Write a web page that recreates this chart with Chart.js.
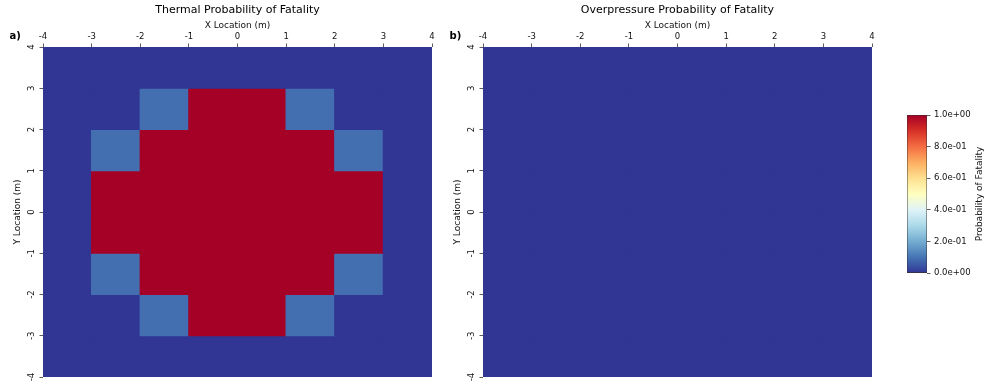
<!DOCTYPE html>
<html>
<head>
<meta charset="utf-8">
<script src="https://cdn.jsdelivr.net/npm/chart.js@4.4.1/dist/chart.umd.min.js"></script>
<style>
  html, body { margin: 0; padding: 0; background: #fff; }
  body { width: 986px; height: 383px; position: relative; overflow: hidden; }
  canvas { position: absolute; top: 0; }
</style>
</head>
<body>
<canvas id="thermal" width="445" height="383" style="left:0px"></canvas>
<canvas id="overpressure" width="445" height="383" style="left:440px"></canvas>
<canvas id="cbar" width="91" height="383" style="left:895px"></canvas>
<script>
// Grid cell edges (m)
const xEdges = [-4, -3, -2, -1, 0, 1, 2, 3, 4];
const yEdges = [4, 3, 2, 1, 0, -1, -2, -3, -4];   // rows listed top to bottom

// Probability of fatality per cell, rows from y=4 (top) down to y=-4
const thermalPof = [
  [0, 0,    0,    0, 0, 0,    0,    0],
  [0, 0,    0.09, 1, 1, 0.09, 0,    0],
  [0, 0.09, 1,    1, 1, 1,    0.09, 0],
  [0, 1,    1,    1, 1, 1,    1,    0],
  [0, 1,    1,    1, 1, 1,    1,    0],
  [0, 0.09, 1,    1, 1, 1,    0.09, 0],
  [0, 0,    0.09, 1, 1, 0.09, 0,    0],
  [0, 0,    0,    0, 0, 0,    0,    0]
];
const overpressurePof = [
  [0, 0, 0, 0, 0, 0, 0, 0],
  [0, 0, 0, 0, 0, 0, 0, 0],
  [0, 0, 0, 0, 0, 0, 0, 0],
  [0, 0, 0, 0, 0, 0, 0, 0],
  [0, 0, 0, 0, 0, 0, 0, 0],
  [0, 0, 0, 0, 0, 0, 0, 0],
  [0, 0, 0, 0, 0, 0, 0, 0],
  [0, 0, 0, 0, 0, 0, 0, 0]
];

// Colour scale range
const colorbarRange = [0, 1];
const colorbarStep = 0.2;

// Reversed red-yellow-blue palette, low -> high
const cmapStops = ['#313695', '#4575b4', '#74add1', '#abd9e9', '#e0f3f8', '#ffffbf',
                   '#fee090', '#fdae61', '#f46d43', '#d73027', '#a50026'];

function hexToRgb(h) {
  return [parseInt(h.slice(1, 3), 16), parseInt(h.slice(3, 5), 16), parseInt(h.slice(5, 7), 16)];
}
function colormap(v) {
  const t = Math.min(1, Math.max(0, (v - colorbarRange[0]) / (colorbarRange[1] - colorbarRange[0])));
  const pos = t * (cmapStops.length - 1);
  const i = Math.min(cmapStops.length - 2, Math.floor(pos));
  const f = pos - i;
  const a = hexToRgb(cmapStops[i]), b = hexToRgb(cmapStops[i + 1]);
  const c = a.map((x, k) => Math.round(x + (b[k] - x) * f));
  return `rgb(${c[0]},${c[1]},${c[2]})`;
}

Chart.defaults.font.family = '"DejaVu Sans", sans-serif';
Chart.defaults.color = '#111';

// Bold panel letter in the top-left corner
const panelTag = {
  id: 'panelTag',
  afterDraw(chart, args, opts) {
    const ctx = chart.ctx;
    ctx.save();
    ctx.font = 'bold 10px "DejaVu Sans"';
    ctx.fillStyle = '#000';
    ctx.textAlign = 'left';
    ctx.textBaseline = 'alphabetic';
    ctx.fillText(opts.text, 9.5, 38.5);
    ctx.restore();
  }
};

// One floating-bar dataset per grid row; each bar spans one cell
function heatmapDatasets(grid) {
  return grid.map((row, r) => ({
    data: row.map((v, c) => ({ x: (xEdges[c] + xEdges[c + 1]) / 2, y: [yEdges[r + 1], yEdges[r]] })),
    backgroundColor: row.map(v => colormap(v)),
    borderWidth: 0,
    inflateAmount: 0.6,
    grouped: false,
    barPercentage: 1,
    categoryPercentage: 1
  }));
}

function heatmapConfig(grid, title, tag) {
  const tickFont = { size: 8.5 };
  const gridOpts = { drawOnChartArea: false, tickLength: 3.5, color: '#333', lineWidth: 0.8, offset: false };
  return {
    type: 'bar',
    data: { datasets: heatmapDatasets(grid) },
    options: {
      responsive: false,
      animation: false,
      events: [],
      devicePixelRatio: 1,
      layout: { padding: { left: 0, right: 13, top: 0, bottom: 6 } },
      plugins: {
        legend: { display: false },
        tooltip: { enabled: false },
        title: {
          display: true, text: title, fullSize: false, color: '#000',
          font: { size: 11, weight: 'normal' }, padding: { top: 4, bottom: 2 }
        },
        panelTag: { text: tag }
      },
      scales: {
        x: {
          type: 'linear', position: 'top', min: xEdges[0], max: xEdges[xEdges.length - 1], offset: false,
          ticks: { stepSize: 1, font: tickFont, padding: 1.5, maxRotation: 0, autoSkip: false },
          grid: gridOpts,
          border: { display: false },
          title: { display: true, text: 'X Location (m)', font: { size: 9 }, padding: { top: 1, bottom: 0 } },
          afterFit(s) { s.height = 27.8; s.paddingLeft = 0; s.paddingRight = 0; }
        },
        y: {
          type: 'linear', min: yEdges[yEdges.length - 1], max: yEdges[0],
          ticks: { stepSize: 1, font: tickFont, padding: 3.5, minRotation: 90, maxRotation: 90, crossAlign: 'center' },
          grid: gridOpts,
          border: { display: false },
          title: { display: true, text: 'Y Location (m)', font: { size: 9 }, padding: { top: 12.6, bottom: 0 } },
          afterFit(s) { s.width = 43; s.paddingTop = 0; s.paddingBottom = 0; }
        }
      }
    },
    plugins: [panelTag]
  };
}

new Chart(document.getElementById('thermal'),
  heatmapConfig(thermalPof, 'Thermal Probability of Fatality', 'a)'));
new Chart(document.getElementById('overpressure'),
  heatmapConfig(overpressurePof, 'Overpressure Probability of Fatality', 'b)'));

// Colour bar: a single floating bar filled with the palette gradient
const cbarTitle = {
  id: 'cbarTitle',
  afterDraw(chart, args, opts) {
    const ctx = chart.ctx, a = chart.chartArea;
    ctx.save();
    ctx.font = '9px "DejaVu Sans"';
    ctx.fillStyle = '#111';
    ctx.textAlign = 'center';
    ctx.textBaseline = 'middle';
    ctx.translate(opts.x, (a.top + a.bottom) / 2);
    ctx.rotate(-Math.PI / 2);
    ctx.fillText(opts.text, 0, 0);
    ctx.restore();
  }
};

function expLabel(v) {
  return Number(v).toExponential(1).replace(/e([+-])(\d)$/, 'e$10$2');
}

new Chart(document.getElementById('cbar'), {
  type: 'bar',
  data: {
    labels: [''],
    datasets: [{
      data: [colorbarRange],
      backgroundColor(ctx) {
        const area = ctx.chart.chartArea;
        if (!area) return cmapStops[0];
        const g = ctx.chart.ctx.createLinearGradient(0, area.bottom, 0, area.top);
        cmapStops.forEach((c, i) => g.addColorStop(i / (cmapStops.length - 1), c));
        return g;
      },
      borderColor: '#333',
      borderWidth: 0.8,
      borderSkipped: false,
      barPercentage: 1,
      categoryPercentage: 1
    }]
  },
  options: {
    responsive: false,
    animation: false,
    events: [],
    devicePixelRatio: 1,
    layout: { padding: { left: 12, right: 0, top: 115, bottom: 110 } },
    plugins: {
      legend: { display: false },
      tooltip: { enabled: false },
      cbarTitle: { text: 'Probability of Fatality', x: 85 }
    },
    scales: {
      x: { display: false },
      y: {
        position: 'right', min: colorbarRange[0], max: colorbarRange[1],
        ticks: { stepSize: colorbarStep, font: { size: 8.5 }, padding: 3.5, callback: expLabel },
        grid: { drawOnChartArea: false, tickLength: 3.5, color: '#333', lineWidth: 0.8 },
        border: { display: false },
        afterFit(s) { s.width = 59; s.paddingTop = 0; s.paddingBottom = 0; }
      }
    }
  },
  plugins: [cbarTitle]
});
</script>
</body>
</html>
